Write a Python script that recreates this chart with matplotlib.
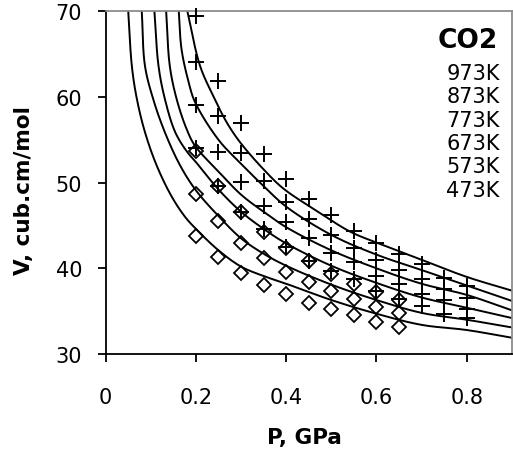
import matplotlib
matplotlib.use("Agg")
import matplotlib.pyplot as plt
import numpy as np

plt.rcParams['font.family'] = ['DejaVu Sans']

# ---- data ----
temps = ["973K", "873K", "773K", "673K", "573K", "473K"]

# model curves (P in GPa, V in cm3/mol)
p_473 = [0.050, 0.058, 0.069, 0.087, 0.113, 0.146, 0.176, 0.2, 0.25, 0.3, 0.35, 0.4, 0.5, 0.6, 0.7, 0.8, 0.9]
v_473 = [70.0, 63.6, 59.8, 55.9, 52.0, 48.4, 46.0, 44.6, 42.1, 40.2, 39.1, 38.2, 36.3, 34.7, 33.4, 32.8, 31.9]
p_573 = [0.080, 0.087, 0.105, 0.131, 0.165, 0.2, 0.25, 0.3, 0.35, 0.4, 0.5, 0.6, 0.7, 0.8, 0.9]
v_573 = [70.0, 63.65, 59.8, 55.9, 52.0, 49.1, 46.1, 43.5, 41.7, 40.3, 38.1, 36.3, 34.8, 34.0, 33.1]
p_673 = [0.108, 0.117, 0.131, 0.154, 0.179, 0.2, 0.25, 0.3, 0.35, 0.4, 0.5, 0.6, 0.7, 0.8, 0.9]
v_673 = [70.0, 63.65, 59.8, 55.9, 53.7, 52.4, 49.2, 46.6, 44.6, 42.9, 40.3, 38.3, 36.6, 35.4, 34.2]
p_773 = [0.134, 0.142, 0.157, 0.179, 0.198, 0.25, 0.3, 0.35, 0.4, 0.5, 0.6, 0.7, 0.8, 0.9]
v_773 = [70.0, 63.65, 59.8, 56.3, 54.3, 51.3, 48.6, 46.6, 44.8, 42.1, 40.0, 38.2, 36.9, 35.1]
p_873 = [0.162, 0.168, 0.183, 0.198, 0.25, 0.3, 0.35, 0.4, 0.5, 0.6, 0.7, 0.8, 0.9]
v_873 = [70.0, 65.6, 61.9, 59.4, 55.0, 52.2, 49.6, 47.2, 43.9, 41.6, 39.8, 38.0, 36.2]
p_973 = [0.181, 0.209, 0.238, 0.268, 0.298, 0.349, 0.394, 0.468, 0.541, 0.6, 0.7, 0.8, 0.9]
v_973 = [70.0, 63.65, 60.15, 57.05, 54.7, 51.6, 49.3, 46.7, 44.3, 43.0, 41.0, 39.0, 37.4]

# experimental points: diamonds (473, 573, 673 K)
p_dia = [0.2, 0.25, 0.3, 0.35, 0.4, 0.45, 0.5, 0.55, 0.6, 0.65]
v_dia_473 = [43.8, 41.3, 39.5, 38.1, 37.0, 36.0, 35.2, 34.5, 33.7, 33.1]
v_dia_573 = [48.7, 45.5, 43.0, 41.2, 39.6, 38.4, 37.4, 36.4, 35.5, 34.8]
v_dia_673 = [53.7, 49.6, 46.6, 44.2, 42.4, 40.8, 39.3, 38.2, 37.2, 36.3]

# experimental points: crosses (673, 773, 873, 973 K)
p_crs = [0.2, 0.25, 0.3, 0.35, 0.4, 0.45, 0.5, 0.55, 0.6, 0.65, 0.7, 0.75, 0.8]
v_crs_673 = [54.1, 49.65, 46.55, 44.6, 42.45, 40.9, 39.7, 38.7, 37.4, 36.4, 35.6, 34.7, 34.2]
v_crs_773 = [59.1, 53.6, 50.1, 47.3, 45.4, 43.5, 41.8, 40.7, 39.1, 38.2, 37.0, 36.3, 35.3]
v_crs_873 = [64.1, 57.8, 53.5, 50.2, 47.7, 45.7, 43.9, 42.4, 41.0, 39.85, 38.8, 37.6, 36.5]
v_crs_973 = [69.5, 61.9, 57.0, 53.4, 50.4, 48.1, 46.2, 44.3, 43.0, 41.65, 40.5, 38.9, 37.9]

x_ticks = [0, 0.2, 0.4, 0.6, 0.8]
x_tick_labels = ["0", "0.2", "0.4", "0.6", "0.8"]
y_ticks = [30, 40, 50, 60, 70]


def smooth_line(xs, ys, sx=451.0, sy=8.57, n=20):
    """Centripetal Catmull-Rom smoothing (like a spreadsheet 'smoothed line')."""
    pts = np.column_stack([np.asarray(xs) * sx, np.asarray(ys) * sy])
    pts = np.vstack([2 * pts[0] - pts[1], pts, 2 * pts[-1] - pts[-2]])
    out = []
    for i in range(1, len(pts) - 2):
        p0, p1, p2, p3 = pts[i - 1], pts[i], pts[i + 1], pts[i + 2]
        t0 = 0.0
        t1 = t0 + np.linalg.norm(p1 - p0) ** 0.5
        t2 = t1 + np.linalg.norm(p2 - p1) ** 0.5
        t3 = t2 + np.linalg.norm(p3 - p2) ** 0.5
        t = np.linspace(t1, t2, n)[:, None]
        a1 = (t1 - t) / (t1 - t0) * p0 + (t - t0) / (t1 - t0) * p1
        a2 = (t2 - t) / (t2 - t1) * p1 + (t - t1) / (t2 - t1) * p2
        a3 = (t3 - t) / (t3 - t2) * p2 + (t - t2) / (t3 - t2) * p3
        b1 = (t2 - t) / (t2 - t0) * a1 + (t - t0) / (t2 - t0) * a2
        b2 = (t3 - t) / (t3 - t1) * a2 + (t - t1) / (t3 - t1) * a3
        c = (t2 - t) / (t2 - t1) * b1 + (t - t1) / (t2 - t1) * b2
        out.append(c if i == 1 else c[1:])
    out = np.vstack(out)
    return out[:, 0] / sx, out[:, 1] / sy


# ---- figure ----
fig = plt.figure(figsize=(5.13, 4.56), dpi=100)
ax = fig.add_axes([0.206, 0.2215, 0.7917, 0.7515])

for p, v in [(p_473, v_473), (p_573, v_573), (p_673, v_673),
             (p_773, v_773), (p_873, v_873), (p_973, v_973)]:
    xs, ys = smooth_line(p, v)
    ax.plot(xs, ys, color='black', lw=1.4, clip_on=True, zorder=2)

for v in [v_dia_473, v_dia_573, v_dia_673]:
    ax.plot(p_dia, v, linestyle='none', marker='D', markersize=7.5,
            markerfacecolor='none', markeredgecolor='black', markeredgewidth=1.3,
            zorder=3)

for v in [v_crs_673, v_crs_773, v_crs_873, v_crs_973]:
    ax.plot(p_crs, v, linestyle='none', marker='+', markersize=12,
            markeredgecolor='black', markeredgewidth=1.4, zorder=3, clip_on=False)

ax.set_xlim(0, 0.9)
ax.set_ylim(30, 70)
ax.set_xticks(x_ticks)
ax.set_xticklabels(x_tick_labels)
ax.set_yticks(y_ticks)
ax.tick_params(axis='both', direction='out', length=6, width=1.3,
               labelsize=15, color='black')
ax.tick_params(axis='x', pad=18)
ax.tick_params(axis='y', pad=11)

for s in ['left', 'bottom']:
    ax.spines[s].set_color('black')
    ax.spines[s].set_linewidth(1.3)
for s in ['top', 'right']:
    ax.spines[s].set_color('#8c8c8c')
    ax.spines[s].set_linewidth(1.3)

ax.set_xlabel("P, GPa", fontsize=15.5, fontweight='bold')
ax.set_ylabel("V, cub.cm/mol", fontsize=15.5, fontweight='bold')
ax.xaxis.set_label_coords(0.49, -0.212)
ax.yaxis.set_label_coords(-0.176, 0.48)

# legend-like text
ax.text(0.965, 0.915, "CO2", transform=ax.transAxes, ha='right', va='center',
        fontsize=19, fontweight='bold')
y0 = 0.82
for i, t in enumerate(temps):
    ax.text(0.97, y0 - i * 0.068, t, transform=ax.transAxes, ha='right',
            va='center', fontsize=15)

fig.savefig("out.png", dpi=100)
